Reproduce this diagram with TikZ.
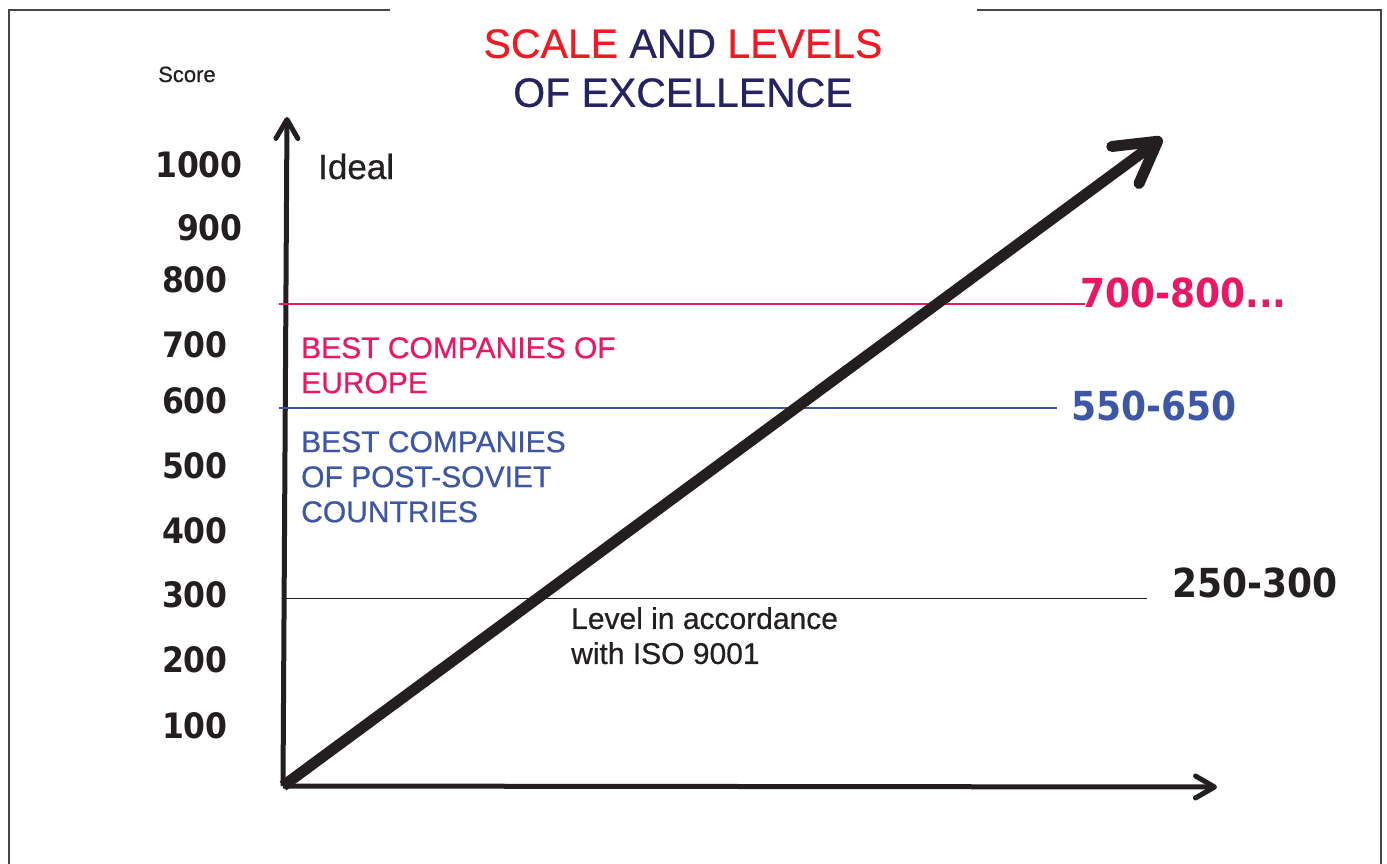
\documentclass[tikz,border=0pt]{standalone}
\usepackage{fontspec}
\setmainfont{Liberation Sans}[FakeBold=0.6]
\newfontfamily\numfont{DejaVu Sans Condensed}
\usetikzlibrary{arrows.meta}
\definecolor{titlered}{RGB}{237,28,36}
\definecolor{titlenavy}{RGB}{38,35,99}
\definecolor{europepink}{RGB}{233,24,100}
\definecolor{sovietblue}{RGB}{62,86,166}
\definecolor{inkblack}{RGB}{35,31,32}
\definecolor{framegray}{RGB}{70,70,70}
\tikzset{
  axis/.style={line width=5pt, draw=inkblack, -{Straight Barb[length=19pt,width=22pt,round]}},
  growth/.style={line width=11pt, draw=inkblack, -{Straight Barb[length=40pt,width=46pt,round]}},
  score/.style={anchor=east, inner sep=0pt, text=inkblack, font=\numfont\bfseries\fontsize{35}{35}\selectfont},
  rangelabel/.style={anchor=west, inner sep=0pt, font=\numfont\bfseries\fontsize{40}{40}\selectfont},
  band/.style={anchor=north west, inner sep=0pt, align=left, font=\fontsize{30}{35}\selectfont},
}
\begin{document}
\begin{tikzpicture}[x=1pt,y=-1pt]
\useasboundingbox (0,0) rectangle (1387,863);
% frame, open at the top behind the title
\draw [framegray,line width=1.5pt] (390,10) -- (9,10) -- (9,866);
\draw [framegray,line width=1.5pt] (977,10) -- (1381,10) -- (1381,866);
\node [anchor=north, inner sep=0pt, align=center, text=titlenavy,
  font=\fontsize{41}{49}\selectfont] (title) at (683,29)
  {\textcolor{titlered}{SCALE} AND \textcolor{titlered}{LEVELS}\\OF EXCELLENCE};
% axes
\coordinate (origin) at (283,786);
\coordinate (ytop) at (287,117);
\coordinate (xend) at (1217,787);
\coordinate (peak) at (1162,138);
\draw [axis] (origin) -- (ytop);
\draw [axis] (origin) -- (xend);
\node [anchor=base west, inner sep=0pt, text=inkblack, font=\fontsize{22}{22}\selectfont]
  (score) at (158,82) {Score};
\node [anchor=base west, inner sep=0pt, text=inkblack, font=\fontsize{35}{35}\selectfont]
  (ideal) at (318,179) {Ideal};
\node [score] (s1000) at (243,165) {1000};
\node [score] (s900) at (243,228) {900};
\foreach \val/\yy in {800/280,700/345,600/401,500/466,400/531,300/595,200/660,100/726}
  \node [score] (s\val) at (228,\yy) {\val};
% levels
\coordinate (euroleft) at (279,304);
\coordinate (euroright) at (1085,304);
\coordinate (sovleft) at (279,408);
\coordinate (sovright) at (1057,408);
\coordinate (isoleft) at (283,598);
\coordinate (isoright) at (1147,598);
\draw [europepink,line width=1.3pt] (euroleft) -- (euroright);
\draw [sovietblue,line width=1.3pt] (sovleft) -- (sovright);
\draw [inkblack,line width=1pt] (isoleft) -- (isoright);
\node [rangelabel,text=europepink] (r800) at (1080,293) {700-800...};
\node [rangelabel,text=sovietblue] (r650) at (1071,406) {550-650};
\node [rangelabel,text=inkblack] (r300) at (1172,583) {250-300};
\node [band,text=europepink] (europe) at (301,337) {BEST COMPANIES OF\\EUROPE};
\node [band,text=sovietblue] (soviet) at (301,431) {BEST COMPANIES\\OF POST-SOVIET\\COUNTRIES};
\node [band,text=inkblack] (iso) at (571,607) {Level in accordance\\with ISO 9001};
\draw [growth] (origin) -- (peak);
\end{tikzpicture}
\end{document}
